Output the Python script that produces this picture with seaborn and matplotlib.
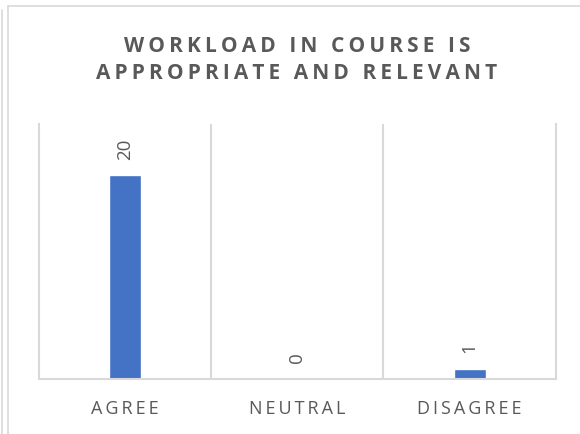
#!/usr/bin/env python3
"""
Bar chart: workload in course is appropriate and relevant.
"""

import matplotlib
matplotlib.use("Agg")
import matplotlib.pyplot as plt
from matplotlib.lines import Line2D
import seaborn as sns
import pandas as pd

# chart data
categories = ["AGREE", "NEUTRAL", "DISAGREE"]
values = [20, 0, 1]
title_lines = ["WORKLOAD IN COURSE IS", "APPROPRIATE AND RELEVANT"]

BAR_COLOR = "#4472C4"
GRID_COLOR = "#d9d9d9"
TEXT_COLOR = "#595959"


def spaced(text, gap="\u2009"):
    """Fake letter spacing by putting thin spaces between characters."""
    return gap.join(text)


sns.set_theme(style="white")
plt.rcParams["font.family"] = ["Open Sans", "DejaVu Sans"]

df = pd.DataFrame({"category": categories, "count": values})

fig = plt.figure(figsize=(5.8, 4.34), dpi=100)
ax = fig.add_axes([0.0664, 0.1274, 0.8922, 0.5869])

sns.barplot(data=df, x="category", y="count", color=BAR_COLOR,
            width=0.185, saturation=1, ax=ax)

ax.set_xlim(-0.5, len(categories) - 0.5)
ax.set_ylim(0, 25)
ax.set_xlabel("")
ax.set_ylabel("")
ax.set_yticks([])

# category separators
ax.set_xticks([i + 0.5 for i in range(len(categories) - 1)], minor=True)
ax.grid(which="minor", axis="x", color=GRID_COLOR, linewidth=1.5)
ax.tick_params(axis="x", which="both", length=0, pad=15,
               labelsize=13, labelcolor=TEXT_COLOR)
ax.set_xticks(range(len(categories)))
ax.set_xticklabels([spaced(c) for c in categories])

for side in ["left", "right", "bottom"]:
    ax.spines[side].set_color(GRID_COLOR)
    ax.spines[side].set_linewidth(1.5)
ax.spines["top"].set_visible(False)

# value labels above bars
for i, v in enumerate(values):
    ax.annotate(str(v), (i, v), xytext=(0, 11), textcoords="offset points",
                rotation=90, ha="center", va="bottom",
                fontsize=13.5, color=TEXT_COLOR)

fig.text(0.512, 0.918, spaced(title_lines[0]) + "\n" + spaced(title_lines[1]),
         ha="center", va="top", fontsize=15, fontweight="bold",
         color=TEXT_COLOR, linespacing=1.42)

# chart frame edges
fig.add_artist(Line2D([2 / 580, 2 / 580], [0, 1 - 10 / 434],
                      color=GRID_COLOR, linewidth=1.2))
fig.add_artist(Line2D([8 / 580, 8 / 580], [0, 1 - 6 / 434],
                      color=GRID_COLOR, linewidth=1.2))
fig.add_artist(Line2D([8 / 580, 1], [1 - 6 / 434, 1 - 6 / 434],
                      color=GRID_COLOR, linewidth=1.2))

fig.savefig("out.png", dpi=100)
